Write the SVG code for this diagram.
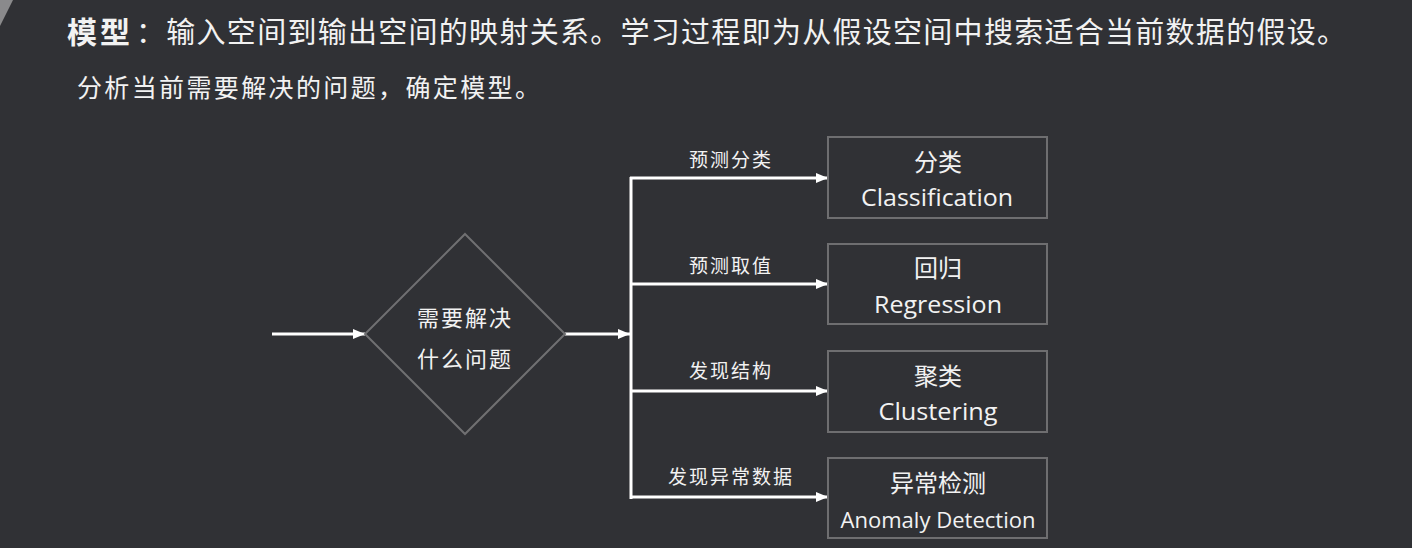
<svg xmlns="http://www.w3.org/2000/svg" width="1412" height="548" viewBox="0 0 1412 548">
<defs>
<marker id="arr" markerWidth="12" markerHeight="10" refX="12" refY="5" orient="auto" markerUnits="userSpaceOnUse">
<path d="M0,0 L12,5 L0,10 Z" fill="#ffffff"/>
</marker>
<style>
.t{font-family:"Noto Sans CJK SC","Open Sans",sans-serif;fill:#f2f2f2;}
.en{font-family:"Open Sans","Noto Sans",sans-serif;fill:#f2f2f2;}
.box{fill:none;stroke:#6e6e70;stroke-width:2;}
.ln{fill:none;stroke:#ffffff;stroke-width:3;}
.lbl{font-size:19px;letter-spacing:2px;text-anchor:middle;}
.bt{font-size:24px;text-anchor:middle;}
</style>
</defs>
<rect width="1412" height="548" fill="#303135"/>
<polygon points="0,0 13,0 0,26" fill="#8a8a8c"/>
<g id="header">
<text class="t" x="67" y="43" font-size="30" font-weight="bold" textLength="63" lengthAdjust="spacing">模型</text>
<text class="t" x="136" y="43" font-size="29" textLength="1210" lengthAdjust="spacing">：输入空间到输出空间的映射关系。学习过程即为从假设空间中搜索适合当前数据的假设。</text>
<text class="t" x="77" y="97" font-size="25" textLength="463" lengthAdjust="spacing">分析当前需要解决的问题，确定模型。</text>
</g>
<g id="connectors">
<line class="ln" x1="272" y1="334" x2="365" y2="334" marker-end="url(#arr)"/>
<line class="ln" x1="565" y1="334" x2="630" y2="334" marker-end="url(#arr)"/>
<line class="ln" x1="631" y1="177" x2="631" y2="499"/>
<line class="ln" x1="630" y1="178" x2="828" y2="178" marker-end="url(#arr)"/>
<line class="ln" x1="630" y1="284" x2="828" y2="284" marker-end="url(#arr)"/>
<line class="ln" x1="630" y1="391" x2="828" y2="391" marker-end="url(#arr)"/>
<line class="ln" x1="630" y1="497" x2="828" y2="497" marker-end="url(#arr)"/>
<text class="t lbl" x="731" y="167">预测分类</text>
<text class="t lbl" x="731" y="273">预测取值</text>
<text class="t lbl" x="731" y="378">发现结构</text>
<text class="t lbl" x="731" y="484">发现异常数据</text>
</g>
<g id="decision">
<polygon points="465,234 565,334 465,434 365,334" fill="none" stroke="#707072" stroke-width="2"/>
<text class="t" x="465" y="326" font-size="22" text-anchor="middle" letter-spacing="2">需要解决</text>
<text class="t" x="465" y="367" font-size="22" text-anchor="middle" letter-spacing="2">什么问题</text>
</g>
<g id="classification">
<rect class="box" x="828" y="137" width="219" height="81"/>
<text class="t bt" x="938" y="171">分类</text>
<text class="en bt" x="937" y="206" textLength="152" lengthAdjust="spacingAndGlyphs">Classification</text>
</g>
<g id="regression">
<rect class="box" x="828" y="244" width="219" height="80"/>
<text class="t bt" x="938" y="277">回归</text>
<text class="en bt" x="938" y="313" textLength="128" lengthAdjust="spacingAndGlyphs">Regression</text>
</g>
<g id="clustering">
<rect class="box" x="828" y="351" width="219" height="81"/>
<text class="t bt" x="938" y="385">聚类</text>
<text class="en bt" x="938" y="420" textLength="119" lengthAdjust="spacingAndGlyphs">Clustering</text>
</g>
<g id="anomaly">
<rect class="box" x="828" y="458" width="219" height="80"/>
<text class="t bt" x="938" y="492">异常检测</text>
<text class="en" x="938" y="528" font-size="22" text-anchor="middle" textLength="195" lengthAdjust="spacingAndGlyphs">Anomaly Detection</text>
</g>
</svg>
